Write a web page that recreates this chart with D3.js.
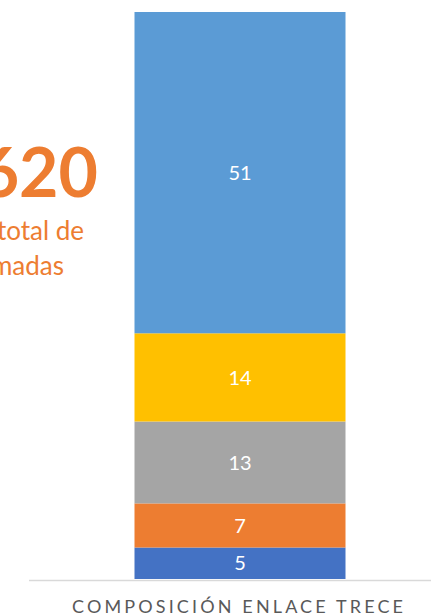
<!DOCTYPE html>
<html>
<head>
<meta charset="utf-8">
<script src="https://cdn.jsdelivr.net/npm/d3@7"></script>
<style>
  body { margin: 0; background: #fff; }
  svg { display: block; font-family: Lato, "Open Sans", sans-serif; }
</style>
</head>
<body>
<script>
// Data (bottom to top)
const categories = ["COMPOSICIÓN ENLACE TRECE"];
const seriesNames = ["s1", "s2", "s3", "s4", "s5"];
const seriesValues = [5, 7, 13, 14, 51];
const seriesColors = ["#4472C4", "#ED7D31", "#A5A5A5", "#FFC000", "#5B9BD5"];

const width = 431, height = 615;

const svg = d3.select("body").append("svg")
    .attr("width", width)
    .attr("height", height);

// build stacked rows
const row = { cat: categories[0] };
seriesNames.forEach((s, i) => row[s] = seriesValues[i]);
const stacked = d3.stack().keys(seriesNames)([row]);

const x = d3.scaleBand()
    .domain(categories)
    .range([29, 451])
    .paddingInner(0.5)
    .paddingOuter(0.243);

const y = d3.scaleLinear()
    .domain([0, d3.sum(seriesValues)])
    .range([579, 12]);

// bars
const layer = svg.append("g")
    .selectAll("g")
    .data(stacked)
    .join("g")
    .attr("fill", (d, i) => seriesColors[i]);

layer.selectAll("rect")
    .data(d => d)
    .join("rect")
    .attr("x", d => x(d.data.cat))
    .attr("width", x.bandwidth())
    .attr("y", d => y(d[1]))
    .attr("height", d => y(d[0]) - y(d[1]));

// value labels
layer.selectAll("text")
    .data(d => d)
    .join("text")
    .attr("x", d => x(d.data.cat) + x.bandwidth() / 2)
    .attr("y", d => (y(d[0]) + y(d[1])) / 2)
    .attr("dy", "0.36em")
    .attr("text-anchor", "middle")
    .attr("fill", "#fff")
    .attr("font-size", 20)
    .text(d => d[1] - d[0]);

// axis line
svg.append("line")
    .attr("x1", 29).attr("x2", width)
    .attr("y1", 580.5).attr("y2", 580.5)
    .attr("stroke", "#D9D9D9")
    .attr("stroke-width", 1.3);

// category label
svg.append("text")
    .attr("x", 72)
    .attr("y", 613)
    .attr("fill", "#595959")
    .attr("font-size", 18)
    .attr("textLength", 331)
    .attr("lengthAdjust", "spacing")
    .text(categories[0]);

// annotation on the left (cut off by the frame)
const note = svg.append("g").attr("fill", "#ED7D31").attr("text-anchor", "end");
note.append("text")
    .attr("x", 98).attr("y", 197)
    .attr("font-size", 68)
    .attr("font-weight", "bold")
    .text("620");
note.append("text")
    .attr("x", 84).attr("y", 240)
    .attr("font-size", 26)
    .text("total de");
note.append("text")
    .attr("x", 64).attr("y", 275)
    .attr("font-size", 26)
    .text("madas");
</script>
</body>
</html>
